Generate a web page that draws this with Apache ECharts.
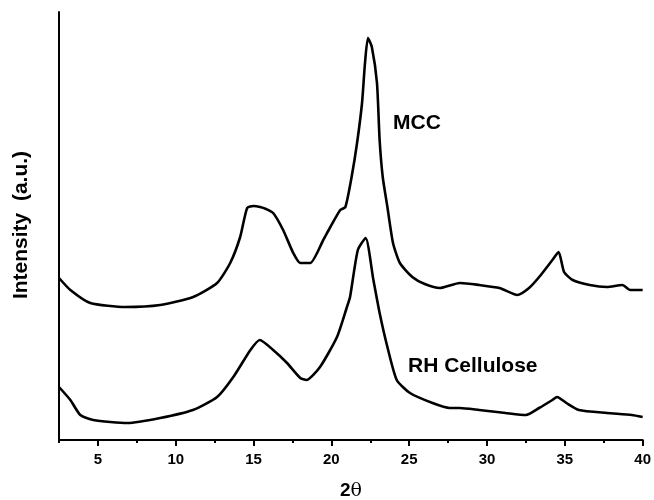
<!DOCTYPE html>
<html>
<head>
<meta charset="utf-8">
<script src="https://cdn.jsdelivr.net/npm/echarts@6/dist/echarts.min.js"></script>
<style>html,body{margin:0;padding:0;background:#fff;}#c{width:654px;height:500px;}</style>
</head>
<body>
<div id="c"></div>
<script>
// 2θ positions and intensities (arbitrary units)
var mccTheta = [2.5,3.23,4.51,6.76,9.0,11.12,12.66,13.5,14.14,14.59,15.0,15.42,15.8,16.26,16.9,17.55,18.0,18.64,19.48,19.9,20.57,20.9,21.3,21.65,21.97,22.16,22.35,22.6,22.93,23.1,23.3,23.6,23.96,24.4,25.2,26.0,26.97,28.25,29.5,30.8,31.95,32.7,33.35,34.2,34.6,34.95,35.5,36.6,37.7,38.7,39.2,40.0];
var mccInt   = [162,150,137,133,135,143,157,177,203,232,234,233,231,227,210,187,177,177,200,212,230,233,263,297,337,377,402,393,357,300,263,233,197,177,163,156,152,157,155,152,145,152,163,180,188,168,160,155,153,155,150,150];
var rhTheta  = [2.5,3.23,3.87,4.7,6.9,9.0,11.1,12.66,13.7,14.8,15.4,16.26,17.15,18.0,18.4,19.27,20.36,21.0,21.2,21.7,22.2,22.7,23.1,23.6,24.2,25.05,26.5,27.6,28.25,29.5,31.2,32.5,33.35,34.2,34.5,35.1,35.9,37.7,39.3,40.0];
var rhInt    = [53,40,25,20,17,22,30,43,63,90,100,90,77,62,60,73,103,133,143,190,202,160,127,93,60,47,37,32,32,30,27,25,32,40,43,37,30,27,25,23];
var xTicks = [5,10,15,20,25,30,35,40];
var xMinorTicks = [2.5,7.5,12.5,17.5,22.5,27.5,32.5,37.5];
var curveLabels = ['MCC','RH Cellulose'];

function pairs(xs, ys){ return xs.map(function(x,i){ return [x, ys[i]]; }); }

var chart = echarts.init(document.getElementById('c'), null, {renderer:'canvas'});
var F = 'Arial, "Liberation Sans", sans-serif';
var TOP = 12;
chart.setOption({
  animation:false,
  backgroundColor:'#fff',
  grid:{left:59, right:11, top:TOP, bottom:60},
  xAxis:[{
    type:'value', min:2.5, max:40, interval:2.5,
    axisLine:{show:true, lineStyle:{color:'#000', width:2}},
    axisTick:{show:true, inside:false, length:6, customValues:xTicks, lineStyle:{color:'#000', width:2}},
    axisLabel:{color:'#000', fontFamily:F, fontWeight:'bold', fontSize:15, margin:12, customValues:xTicks},
    splitLine:{show:false}
  },{
    type:'value', min:2.5, max:40, interval:2.5, position:'bottom',
    axisLine:{show:false},
    axisTick:{show:true, inside:false, length:3, customValues:xMinorTicks, lineStyle:{color:'#000', width:2}},
    axisLabel:{show:false}, splitLine:{show:false}
  }],
  yAxis:{
    type:'value', min:0, max:440-TOP,
    axisLine:{show:true, lineStyle:{color:'#000', width:2}},
    axisTick:{show:false}, axisLabel:{show:false}, splitLine:{show:false}
  },
  series:[
    {type:'line', xAxisIndex:0, data:pairs(mccTheta, mccInt), showSymbol:false, symbol:'none',
     lineStyle:{color:'#000', width:2.6}, smooth:0.2},
    {type:'line', xAxisIndex:0, data:pairs(rhTheta, rhInt), showSymbol:false, symbol:'none',
     lineStyle:{color:'#000', width:2.6}, smooth:0.2}
  ],
  graphic:[
    {type:'text', left:393, top:113, style:{text:curveLabels[0], fill:'#000', font:'bold 21px '+F}},
    {type:'text', left:408, top:356, style:{text:curveLabels[1], fill:'#000', font:'bold 21px '+F}},
    {type:'text', x:351, y:491, style:{text:'{b|2}{t|θ}', align:'center', verticalAlign:'middle', rich:{b:{font:'bold 19px '+F, fill:'#000'}, t:{font:'19px "DejaVu Serif", serif', fill:'#000'}}}},
    {type:'text', x:21, y:225, rotation:Math.PI/2, style:{text:'Intensity  (a.u.)', fill:'#000', font:'bold 21px '+F, textAlign:'center', textVerticalAlign:'middle'}}
  ]
});
</script>
</body>
</html>
